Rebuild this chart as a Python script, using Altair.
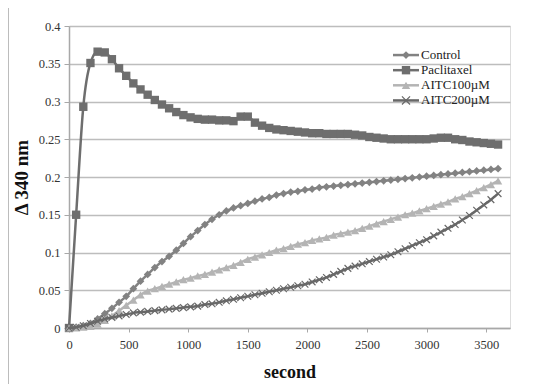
import altair as alt
import pandas as pd

seconds = list(range(0, 3601, 60))
series_names = ["Control", "Paclitaxel", "AITC100µM", "AITC200µM"]
series_colors = ["#828282", "#6e6e6e", "#b4b4b4", "#686868"]

control = [0, 0.001, 0.003, 0.006, 0.012, 0.019, 0.026, 0.034, 0.042, 0.052,
           0.062, 0.071, 0.080, 0.088, 0.095, 0.103, 0.112, 0.121, 0.129, 0.137,
           0.144, 0.150, 0.155, 0.159, 0.162, 0.165, 0.168, 0.171, 0.173, 0.176,
           0.178, 0.180, 0.181, 0.183, 0.184, 0.186, 0.187, 0.188, 0.189, 0.190,
           0.191, 0.192, 0.193, 0.194, 0.195, 0.196, 0.197, 0.198, 0.199, 0.200,
           0.201, 0.202, 0.203, 0.204, 0.205, 0.206, 0.207, 0.208, 0.209, 0.210,
           0.211]
paclitaxel = [0, 0.150, 0.293, 0.351, 0.366, 0.365, 0.356, 0.344, 0.334, 0.324,
              0.316, 0.309, 0.302, 0.296, 0.291, 0.286, 0.282, 0.279, 0.277, 0.276,
              0.276, 0.275, 0.275, 0.274, 0.280, 0.280, 0.272, 0.268, 0.265, 0.263,
              0.262, 0.261, 0.260, 0.259, 0.258, 0.258, 0.257, 0.257, 0.257, 0.257,
              0.256, 0.255, 0.253, 0.252, 0.251, 0.250, 0.250, 0.250, 0.250, 0.250,
              0.250, 0.251, 0.252, 0.252, 0.250, 0.249, 0.247, 0.246, 0.245, 0.244,
              0.243]
aitc100 = [0, 0.000, 0.001, 0.002, 0.005, 0.010, 0.016, 0.023, 0.030, 0.037,
           0.044, 0.049, 0.052, 0.055, 0.058, 0.061, 0.064, 0.066, 0.069, 0.071,
           0.074, 0.077, 0.080, 0.083, 0.087, 0.091, 0.094, 0.097, 0.100, 0.103,
           0.105, 0.108, 0.111, 0.113, 0.116, 0.118, 0.120, 0.123, 0.125, 0.127,
           0.129, 0.132, 0.135, 0.138, 0.141, 0.144, 0.147, 0.150, 0.152, 0.155,
           0.158, 0.161, 0.164, 0.167, 0.171, 0.174, 0.178, 0.182, 0.186, 0.190,
           0.195]
aitc200 = [0, 0.001, 0.003, 0.006, 0.009, 0.012, 0.014, 0.016, 0.018, 0.020,
           0.021, 0.022, 0.023, 0.024, 0.025, 0.026, 0.027, 0.028, 0.029, 0.031,
           0.032, 0.034, 0.036, 0.038, 0.040, 0.042, 0.044, 0.046, 0.048, 0.050,
           0.052, 0.054, 0.056, 0.058, 0.061, 0.064, 0.067, 0.071, 0.075, 0.079,
           0.082, 0.085, 0.088, 0.091, 0.094, 0.097, 0.101, 0.105, 0.109, 0.113,
           0.117, 0.122, 0.127, 0.132, 0.137, 0.143, 0.149, 0.156, 0.163, 0.170,
           0.178]

y_ticks = [0, 0.05, 0.1, 0.15, 0.2, 0.25, 0.3, 0.35, 0.4]
x_ticks = [0, 500, 1000, 1500, 2000, 2500, 3000, 3500]

all_values = [control, paclitaxel, aitc100, aitc200]
rows = []
for name, vals in zip(series_names, all_values):
    for t, v in zip(seconds, vals):
        rows.append({"t": t, "value": v, "series": name})
df = pd.DataFrame(rows)

FONT = "Liberation Serif"
color_scale = alt.Scale(domain=series_names, range=series_colors)

x_enc = alt.X("t:Q", scale=alt.Scale(domain=[0, 3700], nice=False, zero=False),
              axis=alt.Axis(values=x_ticks, format="d", grid=False, title="second",
                            titleFont=FONT, titleFontSize=18, titleFontWeight="bold",
                            titleColor="#111", titleY=44, titleBaseline="middle",
                            labelFont=FONT, labelFontSize=12.5, labelColor="#333",
                            labelPadding=6, tickSize=4, tickColor="#a8a8a8",
                            domainColor="#a8a8a8", domainWidth=1.5, labelFlush=False))
y_enc = alt.Y("value:Q", scale=alt.Scale(domain=[0, 0.4], nice=False),
              axis=alt.Axis(values=y_ticks, format=".2~f", grid=True,
                            gridColor="#bdbdbd", gridWidth=1.5,
                            title="Δ 340 nm", titleFont=FONT, titleFontSize=19,
                            titleFontWeight="bold", titleColor="#111",
                            titleX=-48, titleY=151, titleAngle=270,
                            titleAlign="center", titleBaseline="middle",
                            labelFont=FONT, labelFontSize=12.5, labelColor="#333",
                            labelPadding=4, tickSize=5, tickColor="#a8a8a8",
                            domainColor="#a8a8a8", domainWidth=1.5))
c_enc = alt.Color("series:N", scale=color_scale, legend=None)

X_PATH = "M-1,-1L1,1M-1,1L1,-1"
shape_info = {
    "Control": ("diamond", 60, True),
    "Paclitaxel": ("square", 70, True),
    "AITC100µM": ("triangle-up", 70, True),
    "AITC200µM": (X_PATH, 45, False),
}

data_layers = []
for name in series_names:
    shp, sz, filled = shape_info[name]
    sub = alt.Chart(df).transform_filter(alt.datum.series == name)
    line = sub.mark_line(strokeWidth=2.5, interpolate="monotone").encode(
        x=x_enc, y=y_enc, color=c_enc)
    if filled:
        pts = sub.mark_point(shape=shp, size=sz, filled=True, opacity=1).encode(
            x=x_enc, y=y_enc, color=c_enc)
    else:
        pts = sub.mark_point(shape=shp, size=sz, filled=False, strokeWidth=1.2,
                             opacity=1).encode(x=x_enc, y=y_enc, color=c_enc)
    data_layers += [line, pts]

data_chart = alt.layer(*data_layers)

# legend drawn from the series names
leg_df = pd.DataFrame({"series": series_names})
leg_y = alt.Y("series:N", scale=alt.Scale(domain=series_names, range=[21.5, 82]),
              axis=None)
leg_base = alt.Chart(leg_df)
leg_rule = leg_base.mark_rule(strokeWidth=2.5).encode(
    x=alt.value(324), x2=alt.value(350), y=leg_y, color=c_enc)
leg_layers = [leg_rule]
for name in series_names:
    shp, sz, filled = shape_info[name]
    sub = leg_base.transform_filter(alt.datum.series == name)
    if filled:
        p = sub.mark_point(shape=shp, size=sz, filled=True, opacity=1)
    else:
        p = sub.mark_point(shape=shp, size=sz + 20, filled=False, strokeWidth=1.2, opacity=1)
    leg_layers.append(p.encode(x=alt.value(337), y=leg_y, color=c_enc))
leg_text = leg_base.mark_text(align="left", baseline="middle", font=FONT,
                              fontSize=13, color="#222").encode(
    x=alt.value(352), y=leg_y, text="series:N")
leg_layers.append(leg_text)
legend_chart = alt.layer(*leg_layers)

frame_df = pd.DataFrame({"k": [1]})
frame_left = alt.Chart(frame_df).mark_rule(color="#8f8f8f", strokeWidth=1.2).encode(
    x=alt.value(-61), y=alt.value(-19), y2=alt.value(360))
frame_top = alt.Chart(frame_df).mark_rule(color="#8f8f8f", strokeWidth=1.2).encode(
    x=alt.value(-61), x2=alt.value(449), y=alt.value(-19))

chart = alt.layer(frame_left, frame_top, data_chart, legend_chart).resolve_scale(
    y="independent").properties(
    width=441, height=302,
    padding={"left": 61, "top": 18, "right": 8, "bottom": 56},
    autosize=alt.AutoSizeParams(type="none"),
).configure_view(stroke=None).configure(background="white")

chart.save("out.html", embed_options={"renderer": "svg", "actions": False})
